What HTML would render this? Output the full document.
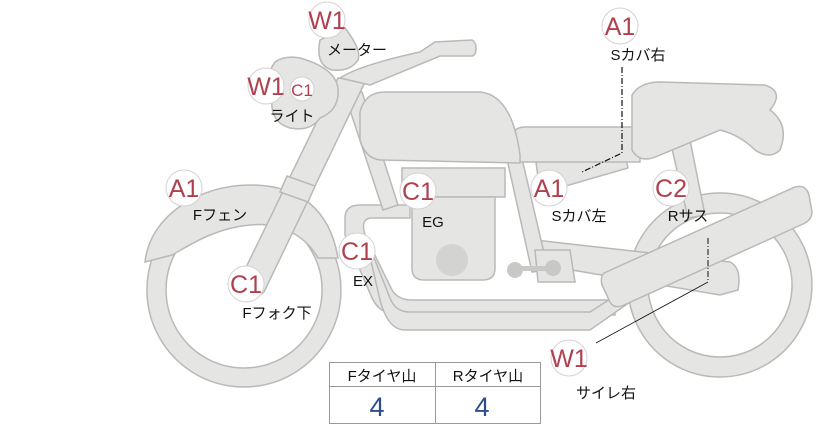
<!DOCTYPE html>
<html><head><meta charset="utf-8"><style>
html,body{margin:0;padding:0;background:#fff;}
svg{display:block;}
text{font-family:"Liberation Sans","Noto Sans CJK JP",sans-serif;}
.p{fill:#e5e5e3;stroke:#b9b9b7;stroke-width:1.5;}
.b circle{fill:#fff;stroke:#d6d0d4;stroke-width:1;}
.b text{fill:#b0404e;font-size:25px;text-anchor:middle;}
.l{font-size:15px;fill:#111;text-anchor:middle;}
</style></head><body>
<svg width="822" height="425" viewBox="0 0 822 425" xmlns="http://www.w3.org/2000/svg">
<path class="p" fill-rule="evenodd" d="M720,193a92,92 0 1,1 -0.1,0z M720,213a72,72 0 1,0 0.1,0z"/>
<path class="p" fill-rule="evenodd" d="M244,193a97,97 0 1,1 -0.1,0z M244,212a78,78 0 1,0 0.1,0z"/>
<path class="p" d="M145,262 C150,215 200,185 250,185 C300,185 330,210 338,258 L318,258 C305,235 280,222 250,225 C215,228 190,245 172,255 Z"/>
<path class="p" d="M535,240 L730,262 Q742,268 738,290 L720,295 L560,268 Z"/>
<path class="p" d="M345,218 Q345,205 360,205 L410,205 L410,218 L372,218 Q360,218 365,235 L392,290 Q398,300 412,300 L615,300 L615,315 L400,315 Q380,315 372,298 L345,235 Z"/>
<path class="p" d="M365,235 L380,300 Q388,330 405,330 L590,330 L640,295 L640,280 L590,312 L410,312 Q395,312 390,298 Z"/>
<path class="p" d="M345,95 L362,92 L398,205 L383,210 Z"/>
<path class="p" d="M505,150 L520,150 L548,270 L532,272 Z"/>
<path class="p" d="M670,140 L690,140 L705,215 L688,218 Z"/>
<path class="p" d="M402,168 L505,168 L505,197 L402,197 Z"/>
<path class="p" d="M412,197 L495,197 L495,268 Q495,280 483,280 L424,280 Q412,280 412,268 Z"/>
<circle cx="452" cy="260" r="16" fill="#d3d3d1"/>
<path class="p" d="M535,250 L570,250 L575,282 L538,282 Z"/>
<g fill="#c8c8c6"><circle cx="515" cy="270" r="8"/><circle cx="553" cy="268" r="8"/><rect x="515" y="266" width="38" height="5"/></g>
<path class="p" d="M535,155 L625,155 L628,168 L545,192 L540,192 Z"/>
<path class="p" d="M512,140 Q512,127 525,127 L640,127 L640,162 L520,162 Z"/>
<path class="p" d="M632,95 Q640,82 660,82 L765,85 Q785,92 770,110 Q790,125 780,150 Q770,160 755,150 Q740,135 720,130 L660,155 Q640,165 632,150 Z"/>
<path class="p" d="M360,112 Q365,92 385,92 L480,92 Q512,95 520,155 L520,163 L380,160 Q365,158 360,140 Z"/>
<!-- fork -->
<path class="p" d="M338,78 L366,80 L264,292 Q255,300 244,296 L236,288 Z"/>
<path class="p" d="M287,176 L315,186 L308,202 L280,192 Z"/>
<path class="p" d="M604,273 L795,187 Q806,184 809,195 L812,212 Q812,220 803,224 L624,305 Q613,310 609,300 L602,285 Q600,277 604,273 Z"/>
<path class="p" d="M275,62 Q285,55 300,58 Q335,68 338,88 Q340,110 320,118 Q310,132 290,128 Q270,122 272,100 Q262,80 275,62 Z"/>
<path class="p" d="M320,40 L345,28 Q362,50 358,60 Q350,72 332,70 Q315,65 320,40 Z"/>
<path class="p" d="M340,78 Q360,65 420,52 L435,42 L472,40 Q476,42 476,48 Q476,55 472,56 L440,56 L370,85 Z"/>
<polyline points="622,67 622,153 582,172" fill="none" stroke="#111" stroke-width="1.2" stroke-dasharray="6,2,1,2"/>
<polyline points="708,238 708,282" fill="none" stroke="#111" stroke-width="1" stroke-dasharray="6,2,1,2"/>
<line x1="708" y1="282" x2="596" y2="343" stroke="#111" stroke-width="0.8"/>
<g class="b">
<circle cx="327" cy="20" r="18"/><text x="327" y="29">W1</text>
<circle cx="266" cy="86" r="18"/><text x="266" y="95">W1</text>
<circle cx="302" cy="89" r="12"/><text x="302" y="96" style="font-size:17px">C1</text>
<circle cx="184" cy="188" r="18"/><text x="184" y="197">A1</text>
<circle cx="246" cy="284" r="18"/><text x="246" y="293">C1</text>
<circle cx="418" cy="191" r="18"/><text x="418" y="200">C1</text>
<circle cx="357" cy="251" r="18"/><text x="357" y="260">C1</text>
<circle cx="620" cy="26" r="18"/><text x="620" y="35">A1</text>
<circle cx="549" cy="188" r="18"/><text x="549" y="197">A1</text>
<circle cx="671" cy="188" r="18"/><text x="671" y="197">C2</text>
<circle cx="569" cy="358" r="18"/><text x="569" y="367">W1</text>
</g>
<text class="l" x="357" y="55">メーター</text>
<text class="l" x="292" y="121">ライト</text>
<text class="l" x="220" y="220">Fフェン</text>
<text class="l" x="433" y="227">EG</text>
<text class="l" x="579" y="221">Sカバ左</text>
<text class="l" x="688" y="221">Rサス</text>
<text class="l" x="363" y="286">EX</text>
<text class="l" x="277" y="318">Fフォク下</text>
<text class="l" x="638" y="60">Sカバ右</text>
<text class="l" x="606" y="398">サイレ右</text>
<g>
<rect x="329.5" y="362.5" width="211" height="61" fill="#fff" stroke="#999" stroke-width="1"/>
<line x1="329.5" y1="386.5" x2="540.5" y2="386.5" stroke="#999"/>
<line x1="435.5" y1="362.5" x2="435.5" y2="423.5" stroke="#999"/>
<text class="l" x="382" y="381">Fタイヤ山</text>
<text class="l" x="488" y="381">Rタイヤ山</text>
<text x="377" y="416" style="font-size:27px;fill:#2f4d8c;text-anchor:middle">4</text>
<text x="482" y="416" style="font-size:27px;fill:#2f4d8c;text-anchor:middle">4</text>
</g>
</svg>
</body></html>
